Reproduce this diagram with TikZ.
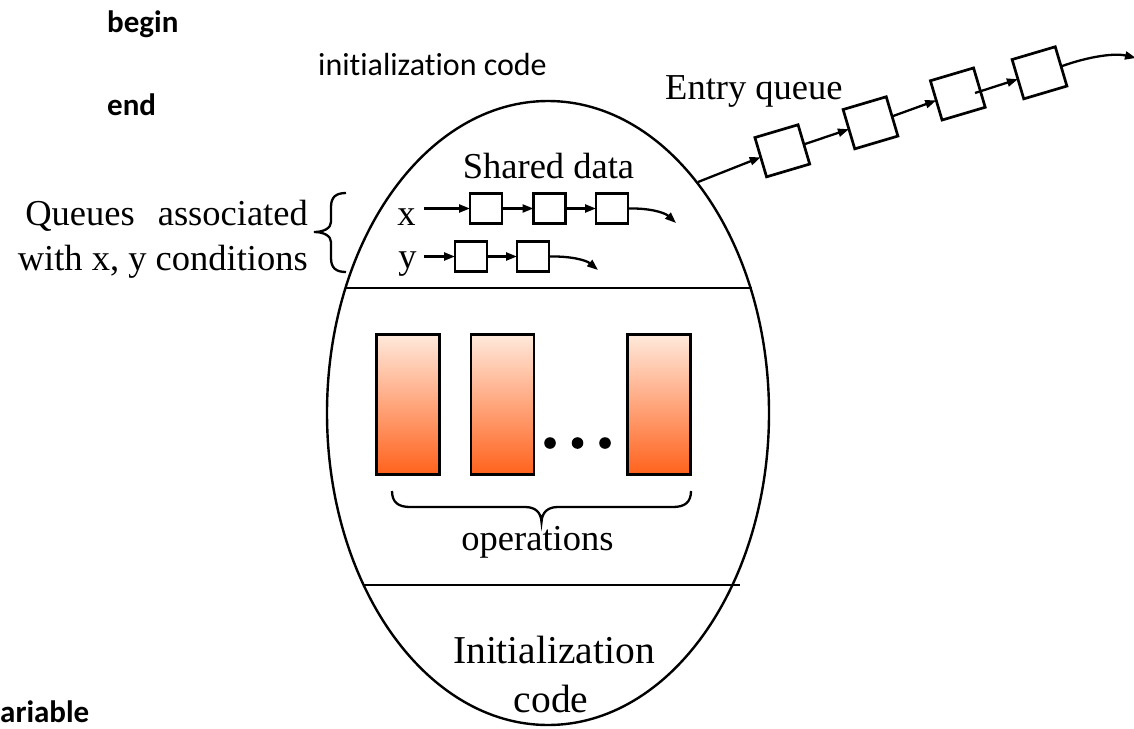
\documentclass[tikz,border=0pt]{standalone}
\usepackage{fontspec}
\setmainfont{Liberation Serif}
\newfontfamily\calibrifont[Ligatures=NoCommon]{Carlito}
\usetikzlibrary{shapes.geometric,arrows.meta,calc}
\definecolor{optop}{RGB}{255,233,220}
\definecolor{opbot}{RGB}{255,98,28}
\begin{document}
\begin{tikzpicture}[x=1pt,y=-1pt,
  serif/.style={font=\fontsize{36.5}{44}\selectfont, inner sep=0pt},
  bigserif/.style={font=\fontsize{39.5}{48}\selectfont, inner sep=0pt},
  calr/.style={font=\calibrifont\fontsize{32}{38}\selectfont, inner sep=0pt},
  calb/.style={font=\calibrifont\bfseries\fontsize{31}{37}\selectfont, inner sep=0pt},
  qbox/.style={draw, line width=2.7pt, minimum width=32pt, minimum height=30pt, inner sep=0pt, outer sep=0pt},
  ebox/.style={draw, line width=2.7pt, minimum width=45pt, minimum height=41pt, inner sep=0pt, outer sep=0pt, rotate=16.5},
  opbox/.style={draw, line width=2.6pt, minimum width=63pt, minimum height=140pt, inner sep=0pt, top color=optop, bottom color=opbot},
  arr/.style={line width=2.3pt, -{Triangle[length=11pt,width=8pt]}},
  chord/.style={line width=2.9pt},
  brc/.style={line width=2.3pt}
]
\useasboundingbox (0,0) rectangle (1134,728);
\clip (0,0) rectangle (1134,728);

% Calibri texts
\node[calb, anchor=base west] (begin) at (107,32) {begin};
\node[calr, anchor=base west] (initc) at (318,75) {initialization code};
\node[calb, anchor=base west] (endt) at (107,115) {end};
\node[calb, anchor=base west] (var) at (0,722) {ariable};

% monitor ellipse
\node[ellipse, draw, line width=2.4pt, minimum width=442pt, minimum height=624pt, inner sep=0pt] (mon) at (548,413) {};
\draw[chord] (345,288) -- (752,288);
\draw[chord] (363,585) -- (740,585);

% shared data
\node[serif, anchor=base] (shared) at (548.5,178) {Shared data};

% x queue
\node[serif, anchor=base] (xl) at (406.5,225) {x};
\coordinate (xs) at (424,208.5);
\node[qbox] (x1) at (486,208.5) {};
\node[qbox] (x2) at (549.5,208.5) {};
\node[qbox] (x3) at (612,208.5) {};
\coordinate (xe) at (676,223);
\draw[arr] (xs) -- (x1.west);
\draw[arr] (x1.east) -- (x2.west);
\draw[arr] (x2.east) -- (x3.west);
\draw[arr] (x3.east) .. controls (648,208) and (664,212) .. (xe);

% y queue
\node[serif, anchor=base] (yl) at (407.5,268) {y};
\coordinate (ys) at (424,256.5);
\node[qbox] (y1) at (471,256.5) {};
\node[qbox] (y2) at (533,256.5) {};
\coordinate (ye) at (598,270);
\draw[arr] (ys) -- (y1.west);
\draw[arr] (y1.east) -- (y2.west);
\draw[arr] (y2.east) .. controls (570,256) and (586,260) .. (ye);

% queue label and brace
\node[serif, anchor=base east] (q1) at (308,225) {Queues\hspace{23pt}associated};
\node[serif, anchor=base east] (q2) at (308,270) {with x, y conditions};
\draw[brc] (346,193) .. controls (336,193) and (331,197) .. (331,207) -- (331,222)
  .. controls (331,228) and (324,232) .. (314,232)
  .. controls (324,232) and (331,236) .. (331,242) -- (331,258)
  .. controls (331,268) and (336,272) .. (346,272);

% entry queue
\node[serif, anchor=base west] (entry) at (665,99) {Entry queue};
\node[ebox] (e1) at (782.3,150.8) {};
\node[ebox] (e2) at (870.5,122.8) {};
\node[ebox] (e3) at (957.8,94) {};
\node[ebox] (e4) at (1039.5,72.8) {};
\coordinate (e3in) at (975,93);
\coordinate (eout) at (1136,58);
\draw[arr] (mon.57.6) -- (e1.west);
\draw[arr] (e1.east) -- (e2.west);
\draw[arr] (e2.east) -- (e3.west);
\draw[arr] (e3in) -- (e4.west);
\draw[arr] (e4.east) .. controls (1090,56) and (1115,53) .. (eout);

% operations
\node[opbox] (o1) at (408,404.5) {};
\node[opbox] (o2) at (502.5,404.5) {};
\node[opbox] (o3) at (659,404.5) {};
\fill (550,443) circle (5.8);
\fill (577.5,443) circle (5.8);
\fill (605,443) circle (5.8);
\draw[brc] (392,491) .. controls (392,502) and (398,507) .. (410,507) -- (525,507)
  .. controls (535,507) and (541,512) .. (541.5,522)
  .. controls (542,512) and (548,507) .. (558,507) -- (673,507)
  .. controls (685,507) and (691,502) .. (691,491);
\node[serif, anchor=base] (ops) at (537.5,550) {operations};

% initialization code
\node[bigserif, anchor=base] (ini1) at (554,663) {Initialization};
\node[bigserif, anchor=base] (ini2) at (551,712) {code};
\end{tikzpicture}
\end{document}
